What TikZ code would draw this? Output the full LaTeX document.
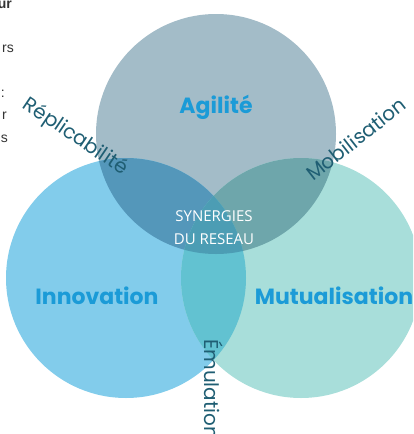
\documentclass[tikz,border=0pt]{standalone}
\usepackage{fontspec}
\setmainfont{Poppins}
\newfontfamily\synfont{Open Sans}
\newfontfamily\notefont{Liberation Sans}
\usetikzlibrary{positioning}

\definecolor{agilcol}{HTML}{A3BCC8}
\definecolor{innocol}{HTML}{82CCEB}
\definecolor{mutucol}{HTML}{A8DEDA}
\definecolor{agilinno}{HTML}{5497BA}
\definecolor{agilmutu}{HTML}{6EA6AB}
\definecolor{innomutu}{HTML}{62C2D1}
\definecolor{centrecol}{HTML}{4C9DB4}
\definecolor{titlecol}{HTML}{1B9BD7}
\definecolor{linkcol}{HTML}{1F5E73}
\definecolor{notecol}{HTML}{333333}

\begin{document}
\begin{tikzpicture}[
    x=1pt, y=-1pt,
    % Define styles for the texts
    keyword/.style={font=\fontsize{22}{24}\selectfont\bfseries, text=titlecol, inner sep=0pt},
    synergy/.style={font=\synfont\fontsize{15}{23}\selectfont, text=white, align=center, inner sep=0pt},
    link/.style={font=\fontsize{20}{24}\selectfont, text=linkcol, inner sep=0pt},
    note/.style={font=\notefont\fontsize{14}{16}\selectfont, text=notecol, inner sep=0pt, anchor=base east}
]

% Page frame
\useasboundingbox (0,0) rectangle (413,434);
\clip (0,0) rectangle (413,434);

% Circle centres
\coordinate (agil) at (216,134);
\coordinate (inno) at (126,278);
\coordinate (mutu) at (301,278);
\def\rad{120}

% Base circles
\fill[agilcol] (agil) circle (\rad);
\fill[innocol] (inno) circle (\rad);
\fill[mutucol] (mutu) circle (\rad);

% Overlaps of two circles
\begin{scope}
    \clip (agil) circle (\rad);
    \fill[agilinno] (inno) circle (\rad);
    \fill[agilmutu] (mutu) circle (\rad);
\end{scope}
\begin{scope}
    \clip (inno) circle (\rad);
    \fill[innomutu] (mutu) circle (\rad);
\end{scope}

% Centre of the three circles
\begin{scope}
    \clip (agil) circle (\rad);
    \clip (inno) circle (\rad);
    \fill[centrecol] (mutu) circle (\rad);
\end{scope}

% Names of the circles
\node[keyword] (agilite) at (216,107) {Agilité};
\node[keyword] (innovation) at (97,296) {Innovation};
\node[keyword] (mutualisation) at (334,296) {Mutualisation};
\node[synergy] (synergies) at (214,228) {SYNERGIES\\DU RESEAU};

% Links between the circles
\node[link, rotate=-34] (replic) at (75,137) {Réplicabilité};
\node[link, rotate=38] (mobil) at (356,139) {Mobilisation};
\node[link, rotate=-90, anchor=west] (emul) at (214,339) {Émulation};

% Cut text on the left edge
\node[note, font=\notefont\fontsize{14}{16}\selectfont\bfseries] (noteA) at (12,8) {ur};
\node[note] (noteB) at (14,52) {rs};
\node[note] (noteC) at (5,97) {:};
\node[note] (noteD) at (7,119) {r};
\node[note] (noteE) at (8,142) {s};

\end{tikzpicture}
\end{document}
